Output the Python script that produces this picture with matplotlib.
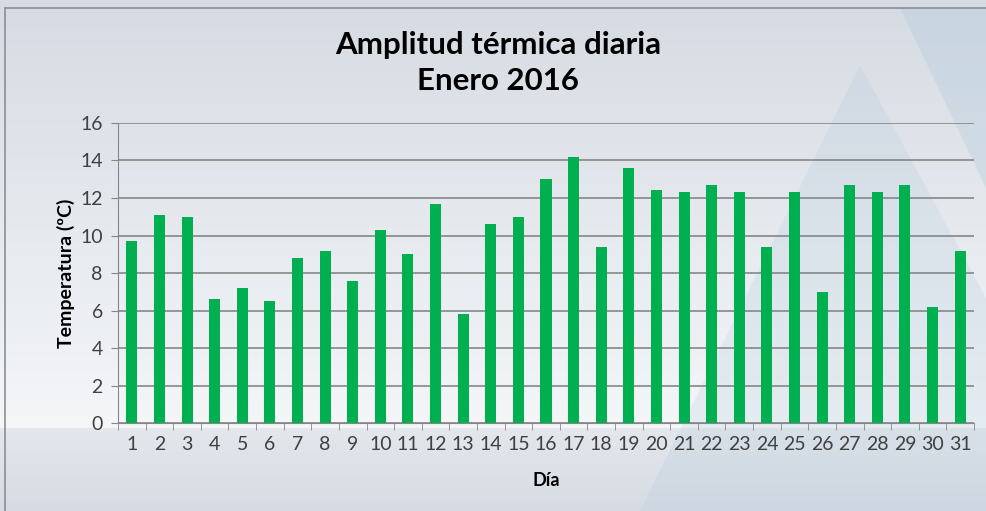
import numpy as np
import matplotlib.pyplot as plt
from matplotlib.patches import Polygon

# data
dias = [str(d) for d in range(1, 32)]
amplitud = [9.7, 11.1, 11.0, 6.6, 7.2, 6.5, 8.8, 9.2, 7.6, 10.3,
            9.0, 11.7, 5.8, 10.6, 11.0, 13.0, 14.2, 9.4, 13.6, 12.4,
            12.3, 12.7, 12.3, 9.4, 12.3, 7.0, 12.7, 12.3, 12.7, 6.2, 9.2]
yticks = [0, 2, 4, 6, 8, 10, 12, 14, 16]

plt.rcParams["font.family"] = ["Lato", "DejaVu Sans"]

fig = plt.figure(figsize=(9.87, 5.11), dpi=100)

# background: slide-like gradient with soft triangles
bg = fig.add_axes([0, 0, 1, 1], zorder=-10)
h = 511
rows = np.zeros((h, 1, 3))
for i in range(h):
    if i < 428:
        t = i / 428
        top = np.array([214, 219, 227])
        bot = np.array([244, 246, 248])
    else:
        t = (i - 428) / (h - 428)
        top = np.array([228, 231, 236])
        bot = np.array([214, 219, 227])
    rows[i, 0] = (top + (bot - top) * t) / 255
bg.imshow(rows, aspect="auto", extent=[0, 987, 511, 0])
bg.add_patch(Polygon([[860, 65], [640, 511], [987, 511], [987, 300]],
                     closed=True, color="#a9c6da", alpha=0.2, lw=0))
bg.add_patch(Polygon([[900, 8], [987, 8], [987, 190]],
                     closed=True, color="#a9c6da", alpha=0.3, lw=0))
bg.plot([5, 987], [8, 8], color="#8a8f96", lw=1.2)
bg.plot([5, 5], [8, 511], color="#8a8f96", lw=1.2)
bg.set_xlim(0, 987)
bg.set_ylim(511, 0)
bg.axis("off")

ax = fig.add_axes([0.1196, 0.1722, 0.8672, 0.5871])
ax.patch.set_alpha(0)
x = np.arange(len(dias))
ax.bar(x, amplitud, width=0.4, color="#00B050", zorder=3)

ax.set_xlim(-0.5, len(dias) - 0.5)
ax.set_ylim(0, 16)
ax.set_yticks(yticks)
ax.set_yticklabels([str(v) for v in yticks], fontsize=14, color="#404040")
ax.set_xticks(x)
ax.set_xticklabels(dias, fontsize=14, color="#404040")
ax.set_xticks(np.arange(-0.5, len(dias)), minor=True)
ax.tick_params(axis="x", which="major", length=0, pad=9)
ax.tick_params(axis="x", which="minor", length=5, color="#868686", direction="out")
ax.tick_params(axis="y", length=5, color="#868686", pad=6)
ax.grid(axis="y", color="#868686", lw=1.2, zorder=0)
for s in ["top", "right"]:
    ax.spines[s].set_visible(False)
ax.spines["left"].set_color("#868686")
ax.spines["bottom"].set_color("#868686")

ax.set_xlabel("Día", fontsize=13, fontweight="bold", labelpad=14)
ax.set_ylabel("Temperatura (ºC)", fontsize=14, fontweight="bold", labelpad=4)

fig.text(0.505, 0.912, "Amplitud térmica diaria", ha="center", va="center",
         fontsize=22.5, fontweight="bold")
fig.text(0.505, 0.842, "Enero 2016", ha="center", va="center",
         fontsize=22.5, fontweight="bold")

fig.savefig("out.png", dpi=100)
